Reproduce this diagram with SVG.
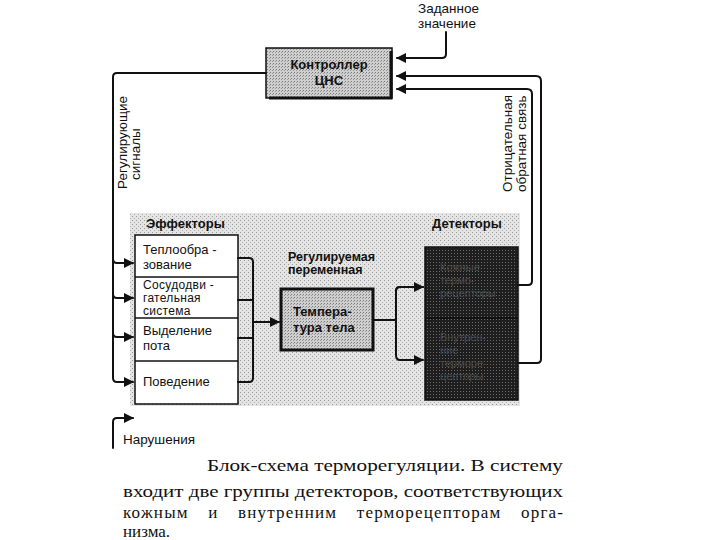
<svg xmlns="http://www.w3.org/2000/svg" width="720" height="540" viewBox="0 0 720 540">
<defs>
<style>
.t{font-family:"Liberation Sans",Arial,sans-serif;font-size:13px;fill:#111}
.s{font-family:"Liberation Sans",Arial,sans-serif;font-size:12px;fill:#111;letter-spacing:0.3px}
.r{font-family:"Liberation Sans",Arial,sans-serif;font-size:13.5px;fill:#111}
.b{font-family:"Liberation Sans",Arial,sans-serif;font-size:12.5px;font-weight:bold;fill:#111}
.b13{font-family:"Liberation Sans",Arial,sans-serif;font-size:13px;font-weight:bold;fill:#111}
.d{font-family:"Liberation Sans",Arial,sans-serif;font-size:11px;fill:#4a4a4a}
.cap{font-family:"Liberation Serif","Times New Roman",serif;font-size:17px;fill:#111}
.ln{fill:none;stroke:#111;stroke-width:2;stroke-linejoin:round;stroke-linecap:round}
</style>
<pattern id="stip" width="4" height="4" patternUnits="userSpaceOnUse">
<rect width="4" height="4" fill="#e4e4e4"/>
<rect x="0" y="0" width="1" height="1" fill="#9a9a9a"/>
<rect x="2" y="2" width="1" height="1" fill="#b0b0b0"/>
</pattern>
<pattern id="stip2" width="3" height="3" patternUnits="userSpaceOnUse">
<rect width="3" height="3" fill="#cfcfcf"/>
<rect x="0" y="0" width="1" height="1" fill="#7a7a7a"/>
<rect x="2" y="1" width="1" height="1" fill="#999"/>
</pattern>
<pattern id="dark" width="3" height="3" patternUnits="userSpaceOnUse">
<rect width="3" height="3" fill="#1e1e1e"/>
<rect x="1" y="1" width="1" height="1" fill="#6a6a6a"/>
</pattern>
<marker id="ah" viewBox="0 0 10 10" refX="9" refY="5" markerWidth="5" markerHeight="5" orient="auto" markerUnits="strokeWidth">
<path d="M0,0 L10,5 L0,10 z" fill="#111"/>
</marker>
</defs>

<rect width="720" height="540" fill="#fff"/>

<g id="background">
<rect x="130" y="213" width="390" height="193" fill="url(#stip)"/>
<text class="b13" x="146" y="228">Эффекторы</text>
<text class="b13" x="432" y="228">Детекторы</text>
</g>

<g id="controller">
<rect x="266" y="48" width="126" height="50" fill="url(#stip2)" stroke="#111" stroke-width="1.5"/>
<path d="M391,51 V98 H269" fill="none" stroke="#111" stroke-width="3"/>
<text class="b13" x="329" y="69" text-anchor="middle">Контроллер</text>
<text class="b13" x="329" y="85" text-anchor="middle">ЦНС</text>
</g>

<g id="setpoint">
<text class="r" x="418" y="13">Заданное</text>
<text class="r" x="418" y="28">значение</text>
</g>

<g id="effectors">
<rect x="135" y="235" width="103" height="169" fill="#fff" stroke="#111" stroke-width="1.5"/>
<line x1="135" y1="277" x2="238" y2="277" stroke="#111" stroke-width="1.5"/>
<line x1="135" y1="318" x2="238" y2="318" stroke="#111" stroke-width="1.5"/>
<line x1="135" y1="361" x2="238" y2="361" stroke="#111" stroke-width="1.5"/>
<text class="t" x="143" y="254">Теплообра -</text>
<text class="t" x="143" y="269">зование</text>
<text class="s" x="143" y="289">Сосудодви -</text>
<text class="s" x="143" y="302">гательная</text>
<text class="s" x="143" y="315">система</text>
<text class="t" x="143" y="335">Выделение</text>
<text class="t" x="143" y="350">пота</text>
<text class="t" x="143" y="386">Поведение</text>
</g>

<g id="regvar">
<text class="b" x="288" y="261">Регулируемая</text>
<text class="b" x="288" y="274">переменная</text>
</g>

<g id="temperature">
<rect x="281" y="289" width="92" height="61" fill="url(#stip2)" stroke="#111" stroke-width="3"/>
<text class="b13" x="293" y="316">Темпера-</text>
<text class="b13" x="293" y="332">тура  тела</text>
</g>

<g id="detectors">
<rect x="425" y="247" width="93" height="153" fill="url(#dark)" stroke="#111" stroke-width="1.5"/>
<line x1="425" y1="318" x2="518" y2="318" stroke="#111" stroke-width="2"/>
<text class="d" x="440" y="271">Кожные</text>
<text class="d" x="440" y="284">термо-</text>
<text class="d" x="440" y="297">рецепторы</text>
<text class="d" x="440" y="341">Внутрен-</text>
<text class="d" x="440" y="354">ние</text>
<text class="d" x="440" y="367">термоpе-</text>
<text class="d" x="440" y="380">цепторы</text>
</g>

<g id="labels">
<text class="r" transform="translate(127,189) rotate(-90)">Регулирующие</text>
<text class="r" transform="translate(140,180) rotate(-90)">сигналы</text>
<text class="r" transform="translate(512,192) rotate(-90)">Отрицательная</text>
<text class="r" transform="translate(526,192) rotate(-90)">обратная  связь</text>
<text class="r" x="123" y="444">Нарушения</text>
</g>

<g id="connectors">
<path class="ln" d="M446,32 V54 Q446,58 442,58 H397" marker-end="url(#ah)"/>
<path class="ln" d="M518,285 H528 Q532,285 532,281 V94 Q532,89 527,89 H397" marker-end="url(#ah)"/>
<path class="ln" d="M518,363 H537 Q541,363 541,359 V81 Q541,76 536,76 H397" marker-end="url(#ah)"/>
<path class="ln" d="M266,73 H117 Q113,73 113,77 V378 Q113,382 117,382 H133" marker-end="url(#ah)"/>
<path class="ln" d="M113,259 Q113,263 117,263 H133" marker-end="url(#ah)"/>
<path class="ln" d="M113,294 Q113,298 117,298 H133" marker-end="url(#ah)"/>
<path class="ln" d="M113,333 Q113,337 117,337 H133" marker-end="url(#ah)"/>
<path class="ln" d="M113,448 V422 Q113,418 117,418 H133" marker-end="url(#ah)"/>
<path class="ln" d="M238,258 H249 Q253,258 253,262 V378 Q253,382 249,382 H238"/>
<path class="ln" d="M238,300 H253"/>
<path class="ln" d="M238,338 H253"/>
<path class="ln" d="M253,322 H279" marker-end="url(#ah)"/>
<path class="ln" d="M373,320 H396"/>
<path class="ln" d="M423,287 H400 Q396,287 396,291 V355 Q396,360 400,360 H423" marker-end="url(#ah)"/>
<path class="ln" d="M396,291 Q396,287 400,287 H423" marker-end="url(#ah)"/>
</g>

<g id="caption">
<text class="cap" x="207" y="471" textLength="356" lengthAdjust="spacingAndGlyphs">Блок-схема терморегуляции. В систему</text>
<text class="cap" x="123" y="497" textLength="440" lengthAdjust="spacingAndGlyphs">входит две группы детекторов, соответствующих</text>
<text class="cap" x="123" y="518" word-spacing="14" textLength="440" lengthAdjust="spacing">кожным и внутренним терморецепторам орга-</text>
<text class="cap" x="123" y="537">низма.</text>
</g>
</svg>
